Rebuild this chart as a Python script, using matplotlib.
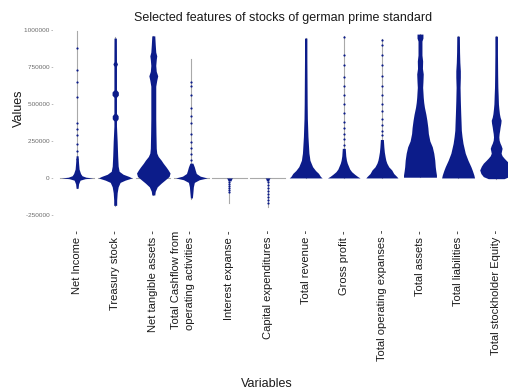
import numpy as np
import matplotlib
import matplotlib.pyplot as plt

matplotlib.use('Agg')

plt.rcParams['font.family'] = ['Liberation Sans', 'DejaVu Sans']

variables = ['Net Income', 'Treasury stock', 'Net tangible assets',
             'Total Cashflow from\noperating activities', 'Interest expanse',
             'Capital expenditures', 'Total revenue', 'Gross profit',
             'Total operating expanses', 'Total assets', 'Total liabilities',
             'Total stockholder Equity']

# swarm outline of each variable: value levels (in thousands) and relative half width
net_income_lv = [-70, -40, -15, -5, 0, 5, 15, 30, 60, 100, 150]
net_income_w = [1, 1.5, 3, 8, 16, 9, 5, 3.5, 2, 1.5, 1]

treasury_lv = [-185, -150, -100, -60, -30, -15, 0, 10, 25, 45, 80, 150, 250, 350,
               385, 400, 420, 435, 545, 560, 580, 595, 755, 770, 785, 945]
treasury_w = [1.5, 1.5, 2, 3, 5, 10, 17, 14, 8, 4, 3, 2.5, 2, 1.3,
              1.3, 3, 3, 1.3, 1.3, 3.2, 3.2, 1.3, 1.3, 2.3, 1.3, 1.2]

tangible_lv = [-115, -90, -60, -35, -13, 10, 33, 55, 74, 100, 120, 145, 168, 200,
               300, 400, 500, 600, 620, 660, 690, 720, 760, 800, 825, 850, 900, 960]
tangible_w = [1.5, 2, 4, 8, 12, 16, 17, 15, 13, 10, 8, 5, 3.5, 3,
              2.7, 2.5, 2.5, 2.5, 2.5, 3.5, 4.5, 3, 2.5, 3, 3.5, 2.5, 2, 1.5]

cashflow_lv = [-135, -100, -60, -30, -12, 0, 12, 30, 50, 74, 100]
cashflow_w = [1, 1.5, 2, 3, 8, 16, 9, 5, 4, 3, 1.5]

interest_lv = [-20, -10, 0]
interest_w = [1.5, 2, 3]

capex_lv = [-20, -10, 0]
capex_w = [1.2, 1.5, 2.5]

revenue_lv = [0, 10, 31, 50, 76, 100, 120, 145, 167, 200, 234, 280, 342, 400,
              500, 600, 700, 800, 945]
revenue_w = [16.7, 15, 13, 10, 7, 5.5, 4.3, 3.8, 3.3, 3, 2.7, 2.3, 2, 1.7,
             1.5, 1.4, 1.3, 1.2, 1.2]

gross_lv = [0, 10, 25, 42, 60, 76, 100, 120, 150, 200]
gross_w = [16.5, 14, 11, 8, 6, 5, 3.5, 2.7, 2, 1.5]

opex_lv = [0, 10, 30, 54, 75, 100, 120, 143, 175, 210, 260]
opex_w = [16.3, 15, 12, 10, 7, 5, 4, 3.3, 2.5, 2, 1.5]

assets_lv = [5, 20, 50, 76, 120, 167, 210, 250, 300, 340, 390, 430, 478, 510,
             545, 580, 612, 650, 703, 740, 790, 830, 880, 925, 945, 972]
assets_w = [16.7, 16.7, 16, 15.5, 15, 14, 12.5, 10, 8.5, 8, 7, 6, 4.5, 3.8,
            3.3, 3, 2.7, 3, 3.3, 2.5, 2.7, 2, 2, 2, 3, 3]

liabilities_lv = [0, 20, 50, 76, 120, 167, 234, 280, 322, 380, 434, 520, 612, 680,
                  724, 780, 850, 958]
liabilities_w = [16.7, 16, 14.5, 13, 10, 7.3, 5, 4, 3.3, 3, 2.7, 2.3, 2, 2.3,
                 2.3, 1.8, 1.5, 1.3]

equity_lv = [-5, 9, 30, 54, 80, 100, 120, 134, 150, 167, 185, 200, 220, 234, 255,
             277, 300, 320, 344, 370, 390, 410, 434, 470, 500, 560, 612, 700, 838, 958]
equity_w = [8, 13, 15.5, 16.7, 15, 13, 10, 8, 6, 5, 5.5, 6, 5, 4, 3,
            2.7, 3, 3.5, 4, 4.7, 5, 4, 3.3, 2.7, 2.3, 2, 1.7, 1.5, 1.3, 1.3]

# single observations away from the dense part (thousands)
net_income_pts = [130, 180, 230, 290, 330, 370, 545, 645, 730, 880]
cashflow_pts = [120, 160, 200, 240, 300, 370, 420, 470, 560, 620, 650]
interest_pts = [-30, -42, -55, -68, -82, -95]
capex_pts = [-30, -50, -70, -90, -110, -130, -150, -170]
gross_pts = [220, 260, 300, 340, 380, 440, 500, 560, 620, 680, 760, 830, 955]
opex_pts = [290, 320, 360, 400, 450, 500, 560, 620, 690, 760, 830, 900, 935]

# range of every variable (thousands)
v_min = [-70, -190, -115, -140, -170, -195, 0, 0, 0, 5, 0, -5]
v_max = [990, 950, 960, 805, 0, 0, 945, 958, 938, 972, 958, 958]

yticks = [-250000, 0, 250000, 500000, 750000, 1000000]

outlines = [
    (net_income_lv, net_income_w, net_income_pts),
    (treasury_lv, treasury_w, []),
    (tangible_lv, tangible_w, []),
    (cashflow_lv, cashflow_w, cashflow_pts),
    (interest_lv, interest_w, interest_pts),
    (capex_lv, capex_w, capex_pts),
    (revenue_lv, revenue_w, []),
    (gross_lv, gross_w, gross_pts),
    (opex_lv, opex_w, opex_pts),
    (assets_lv, assets_w, []),
    (liabilities_lv, liabilities_w, []),
    (equity_lv, equity_w, []),
]

blue = '#0c1c8a'
grey = '#a9a9a9'

fig = plt.figure(figsize=(5.08, 3.89), dpi=100)
W, H = 508, 389
ax = fig.add_axes([55 / W, (H - 215.4) / H, 464.8 / W, 192.7 / H])

for i, (lv, w, pts) in enumerate(outlines):
    x = i + 1
    ax.plot([x, x], [v_min[i] * 1000, v_max[i] * 1000], color=grey, lw=0.8, zorder=1)
    if i < 6:
        ax.plot([x - 0.45, x + 0.45], [0, 0], color=grey, lw=0.8, zorder=1)
    lv = np.array(lv) * 1000
    half = 0.44 * np.array(w) / 17
    ax.fill_betweenx(lv, x - half, x + half, color=blue, lw=0, zorder=2)
    if pts:
        ax.scatter(np.full(len(pts), x), np.array(pts) * 1000, s=2.5, color=blue,
                   lw=0, zorder=3)

ax.set_xlim(0.42, 12.62)
ax.set_ylim(-253000, 1049000)
for s in ax.spines.values():
    s.set_visible(False)

ax.set_yticks(yticks)
ax.set_yticklabels([f'{v} -' for v in yticks], fontsize=4.6, color='#6a6a6a')
ax.tick_params(axis='y', length=0, pad=1)
ax.set_xticks([])

for i, name in enumerate(variables):
    dx = -6 if '\n' in name else 0
    ax.annotate(name + ' -', xy=(i + 1, 0), xycoords=('data', 'axes fraction'),
                xytext=(dx, -10.5), textcoords='offset points', rotation=90,
                ha='center', va='top', fontsize=8, color='#1a1a1a', linespacing=1.5,
                annotation_clip=False)

fig.text(283.5 / W, (H - 18) / H, 'Selected features of stocks of german prime standard',
         ha='center', va='center', fontsize=9, color='#1a1a1a')
fig.text(19 / W, (H - 108) / H, 'Values', rotation=90, ha='center', va='center',
         fontsize=9, color='#1a1a1a')
fig.text(267 / W, (H - 378) / H, 'Variables', ha='center', va='top',
         fontsize=9, color='#1a1a1a')

fig.savefig('out.png', dpi=100)
